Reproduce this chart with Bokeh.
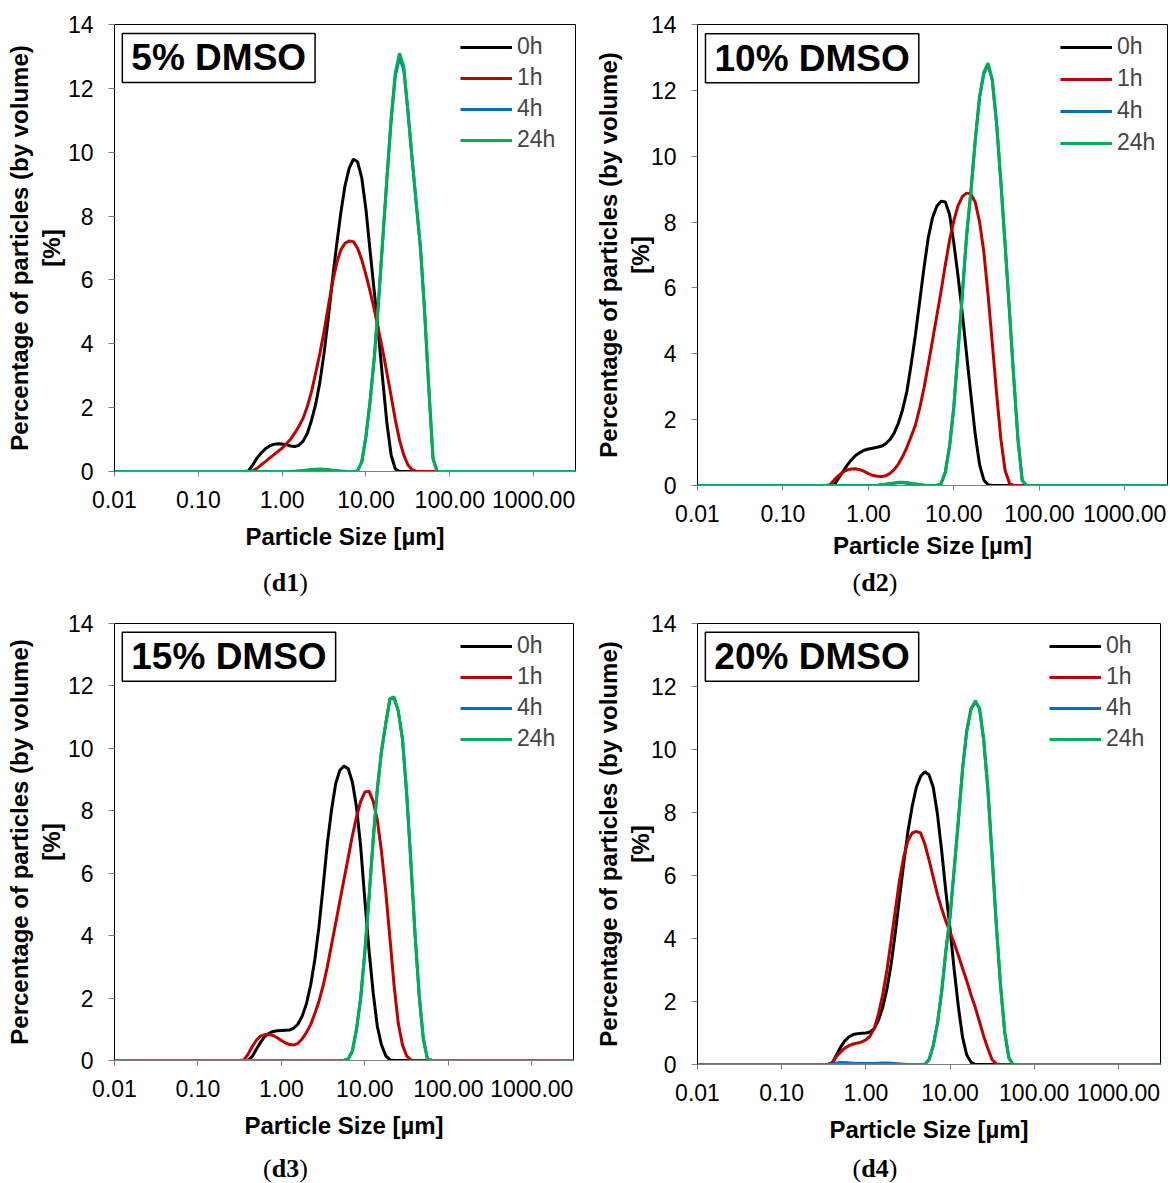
from bokeh.plotting import figure
from bokeh.layouts import column, row
from bokeh.models import (Range1d, FixedTicker, PrintfTickFormatter, Label,
                          Legend, LegendItem, Div)
from bokeh.embed import file_html
from bokeh.resources import INLINE

# particle size classes [µm]
sizes = [0.01,
         0.282, 0.316, 0.355, 0.398, 0.447, 0.501, 0.562, 0.631, 0.708, 0.794,
         0.891, 1.00, 1.12, 1.26, 1.41, 1.58, 1.78, 2.00, 2.24, 2.51,
         2.82, 3.16, 3.55, 3.98, 4.47, 5.01, 5.62, 6.31, 7.08, 7.94,
         8.91, 10.0, 11.2, 12.6, 14.1, 15.8, 17.8, 20.0, 22.4, 25.1,
         28.2, 31.6, 35.5, 39.8, 44.7, 50.1, 56.2, 63.1, 70.8, 79.4,
         89.1, 100.0,
         3500]

series_labels = ["0h", "1h", "4h", "24h"]
series_colors = ["#000000", "#C00000", "#0070C0", "#00B050"]
panel_titles = ["5% DMSO", "10% DMSO", "15% DMSO", "20% DMSO"]
captions = ["d1", "d2", "d3", "d4"]
x_ticks = [0.01, 0.1, 1, 10, 100, 1000]
y_ticks = [0, 2, 4, 6, 8, 10, 12, 14]

# ---- 5% DMSO ----
d1_0h = [0,
         0, 0, 0, 0.02, 0.21, 0.42, 0.58, 0.71, 0.80, 0.85,
         0.87, 0.86, 0.84, 0.80, 0.78, 0.82, 0.95, 1.20, 1.60, 2.10,
         2.80, 3.70, 4.80, 6.00, 7.10, 8.10, 8.95, 9.50, 9.78, 9.70,
         9.20, 8.20, 6.90, 5.60, 4.30, 2.90, 1.50, 0.50, 0.08, 0,
         0, 0, 0, 0, 0, 0, 0, 0, 0, 0,
         0, 0,
         0]
d1_1h = [0,
         0, 0, 0, 0, 0.02, 0.10, 0.21, 0.31, 0.42, 0.52,
         0.63, 0.73, 0.87, 1.01, 1.20, 1.41, 1.67, 2.04, 2.50, 3.08,
         3.70, 4.38, 5.17, 5.90, 6.52, 6.94, 7.15, 7.22, 7.20, 6.99,
         6.63, 6.16, 5.64, 5.06, 4.44, 3.81, 3.08, 2.35, 1.62, 0.99,
         0.52, 0.21, 0.05, 0.01, 0, 0, 0, 0, 0, 0,
         0, 0,
         0]
d1_4h = [0,
         0, 0, 0, 0, 0, 0, 0, 0, 0, 0,
         0, 0, 0, 0, 0, 0, 0.02, 0.03, 0.04, 0.05,
         0.05, 0.04, 0.04, 0.03, 0.02, 0.01, 0, 0, 0, 0.02,
         0.30, 1.10, 2.20, 3.60, 5.30, 7.20, 9.20, 11.0, 12.4, 12.95,
         12.6, 11.3, 9.8, 8.4, 7.0, 5.0, 2.6, 0.4, 0, 0,
         0, 0,
         0]
d1_24h = [0,
          0, 0, 0, 0, 0, 0, 0, 0, 0, 0,
          0, 0, 0, 0, 0.01, 0.02, 0.03, 0.05, 0.06, 0.07,
          0.08, 0.07, 0.06, 0.04, 0.03, 0.01, 0.01, 0, 0, 0.02,
          0.30, 1.10, 2.20, 3.60, 5.30, 7.20, 9.20, 11.1, 12.5, 13.1,
          12.7, 11.3, 9.8, 8.4, 7.0, 5.0, 2.6, 0.4, 0, 0,
          0, 0,
          0]

# ---- 10% DMSO ----
d2_0h = [0,
         0, 0, 0, 0.02, 0.22, 0.41, 0.61, 0.78, 0.91, 1.00,
         1.07, 1.11, 1.13, 1.16, 1.19, 1.26, 1.39, 1.59, 1.89, 2.30,
         2.86, 3.67, 4.58, 5.59, 6.61, 7.52, 8.13, 8.48, 8.63, 8.61,
         8.23, 7.35, 6.35, 5.19, 3.97, 2.76, 1.54, 0.63, 0.17, 0.02,
         0, 0, 0, 0, 0, 0, 0, 0, 0, 0,
         0, 0,
         0]
d2_1h = [0,
         0, 0, 0.02, 0.17, 0.30, 0.41, 0.47, 0.50, 0.51, 0.48,
         0.43, 0.36, 0.31, 0.28, 0.27, 0.29, 0.36, 0.48, 0.65, 0.88,
         1.16, 1.49, 1.84, 2.35, 2.96, 3.67, 4.40, 5.15, 5.90, 6.70,
         7.45, 8.05, 8.50, 8.78, 8.88, 8.85, 8.60, 8.00, 7.10, 5.80,
         4.30, 2.80, 1.40, 0.45, 0.07, 0, 0, 0, 0, 0,
         0, 0,
         0]
d2_4h = [0,
         0, 0, 0, 0, 0, 0, 0, 0, 0, 0,
         0, 0, 0, 0, 0.02, 0.03, 0.05, 0.07, 0.08, 0.08,
         0.07, 0.05, 0.04, 0.02, 0.01, 0, 0, 0, 0.05, 0.40,
         1.20, 2.40, 4.10, 5.85, 7.60, 8.90, 10.5, 11.8, 12.5, 12.78,
         12.3, 11.0, 9.2, 7.3, 5.3, 3.3, 1.4, 0.15, 0, 0,
         0, 0,
         0]
d2_24h = [0,
          0, 0, 0, 0, 0, 0, 0, 0, 0, 0,
          0, 0, 0, 0, 0.02, 0.04, 0.06, 0.08, 0.10, 0.10,
          0.09, 0.07, 0.05, 0.03, 0.01, 0, 0, 0, 0.05, 0.40,
          1.20, 2.40, 4.10, 5.85, 7.60, 8.90, 10.5, 11.8, 12.55, 12.83,
          12.3, 11.0, 9.2, 7.3, 5.3, 3.3, 1.4, 0.15, 0, 0,
          0, 0,
          0]

# ---- 15% DMSO ----
d3_0h = [0,
         0, 0, 0, 0.01, 0.13, 0.36, 0.58, 0.77, 0.87, 0.93,
         0.95, 0.96, 0.97, 0.98, 1.04, 1.17, 1.43, 1.83, 2.42, 3.22,
         4.29, 5.57, 6.95, 8.02, 8.87, 9.30, 9.43, 9.35, 8.92, 8.12,
         6.84, 5.14, 3.54, 2.15, 1.09, 0.50, 0.15, 0.02, 0, 0,
         0, 0, 0, 0, 0, 0, 0, 0, 0, 0,
         0, 0,
         0]
d3_1h = [0,
         0, 0, 0.02, 0.20, 0.45, 0.65, 0.78, 0.83, 0.84, 0.80,
         0.73, 0.64, 0.56, 0.51, 0.50, 0.55, 0.70, 0.90, 1.15, 1.50,
         1.90, 2.40, 3.00, 3.70, 4.40, 5.10, 5.80, 6.50, 7.20, 7.80,
         8.30, 8.60, 8.63, 8.30, 7.70, 6.70, 5.40, 3.90, 2.40, 1.20,
         0.50, 0.15, 0.02, 0, 0, 0, 0, 0, 0, 0,
         0, 0,
         0]
d3_4h = [0,
         0, 0, 0, 0, 0, 0, 0, 0, 0, 0,
         0, 0, 0, 0, 0, 0, 0, 0, 0, 0,
         0, 0, 0, 0, 0, 0, 0, 0.05, 0.30, 1.00,
         2.00, 3.50, 5.20, 7.10, 8.70, 9.90, 10.8, 11.6, 11.6, 11.2,
         10.3, 8.6, 6.4, 4.1, 2.1, 0.7, 0.05, 0, 0, 0,
         0, 0,
         0]
d3_24h = [0,
          0, 0, 0, 0, 0, 0, 0, 0, 0, 0,
          0, 0, 0, 0, 0, 0, 0, 0, 0, 0,
          0, 0, 0, 0, 0, 0, 0, 0.05, 0.30, 1.00,
          2.00, 3.50, 5.20, 7.10, 8.70, 9.90, 10.8, 11.6, 11.65, 11.2,
          10.3, 8.6, 6.4, 4.1, 2.1, 0.7, 0.05, 0, 0, 0,
          0, 0,
          0]

# ---- 20% DMSO ----
d4_0h = [0,
         0, 0, 0, 0.05, 0.30, 0.55, 0.75, 0.88, 0.95, 0.98,
         0.99, 1.00, 1.03, 1.15, 1.40, 1.80, 2.40, 3.20, 4.20, 5.30,
         6.40, 7.40, 8.20, 8.80, 9.15, 9.29, 9.20, 8.80, 7.95, 6.80,
         5.50, 4.30, 3.00, 1.80, 0.85, 0.30, 0.07, 0, 0, 0,
         0, 0, 0, 0, 0, 0, 0, 0, 0, 0,
         0, 0,
         0]
d4_1h = [0,
         0, 0, 0, 0.05, 0.25, 0.40, 0.52, 0.60, 0.65, 0.68,
         0.72, 0.78, 0.90, 1.15, 1.60, 2.20, 3.00, 3.95, 4.90, 5.85,
         6.60, 7.10, 7.35, 7.40, 7.35, 7.00, 6.50, 5.95, 5.40, 4.95,
         4.55, 4.20, 3.85, 3.45, 3.05, 2.65, 2.20, 1.80, 1.35, 0.90,
         0.50, 0.15, 0.02, 0, 0, 0, 0, 0, 0, 0,
         0, 0,
         0]
d4_4h = [0,
         0, 0, 0, 0.02, 0.05, 0.06, 0.06, 0.05, 0.04, 0.03,
         0.03, 0.03, 0.03, 0.03, 0.04, 0.05, 0.05, 0.04, 0.03, 0.02,
         0.01, 0, 0, 0, 0, 0, 0.15, 0.60, 1.30, 2.30,
         3.60, 4.70, 6.20, 7.80, 9.40, 10.6, 11.3, 11.5, 11.3, 10.3,
         8.7, 6.6, 4.4, 2.5, 1.0, 0.2, 0, 0, 0, 0,
         0, 0,
         0]
d4_24h = [0,
          0, 0, 0, 0, 0, 0, 0, 0, 0, 0,
          0, 0, 0, 0, 0, 0, 0, 0, 0, 0,
          0, 0, 0, 0, 0, 0, 0.15, 0.60, 1.30, 2.30,
          3.60, 4.70, 6.20, 7.80, 9.40, 10.6, 11.3, 11.55, 11.3, 10.3,
          8.7, 6.6, 4.4, 2.5, 1.0, 0.2, 0, 0, 0, 0,
          0, 0,
          0]

panel_data = [
    [d1_0h, d1_1h, d1_4h, d1_24h],
    [d2_0h, d2_1h, d2_4h, d2_24h],
    [d3_0h, d3_1h, d3_4h, d3_24h],
    [d4_0h, d4_1h, d4_4h, d4_24h],
]

# layout settings per panel (pixels)
layouts = [
    dict(w=583, h=565, bl=114, br=8, bt=24, bb=94, xls=12, yls=0, lw=49, lsp=4,
         cap_h=35, cap_w=571),
    dict(w=585, h=565, bl=114, br=1, bt=24, bb=80, xls=7, yls=-6, lw=41, lsp=5,
         cap_h=35, cap_w=584),
    dict(w=583, h=556, bl=114, br=10, bt=23, bb=96, xls=12, yls=0, lw=47, lsp=4,
         cap_h=26, cap_w=571),
    dict(w=585, h=556, bl=114, br=8, bt=23, bb=92, xls=12, yls=-6, lw=45, lsp=4,
         cap_h=26, cap_w=584),
]

FONT = "Liberation Sans"


def make_panel(ys, title, lay):
    p = figure(x_axis_type="log", x_range=Range1d(0.01, 3160), y_range=Range1d(0, 14),
               width=lay["w"], height=lay["h"],
               min_border_left=lay["bl"], min_border_right=lay["br"],
               min_border_top=lay["bt"], min_border_bottom=lay["bb"],
               output_backend="svg", toolbar_location=None)
    p.xgrid.visible = False
    p.ygrid.visible = False
    p.outline_line_color = "#000000"
    p.outline_line_width = 1
    p.background_fill_color = "white"
    p.border_fill_color = "white"

    renderers = []
    for yv, col in zip(ys, series_colors):
        r = p.line(sizes, yv, line_color=col, line_width=3)
        renderers.append(r)

    # x axis
    xa = p.xaxis[0]
    xa.ticker = FixedTicker(ticks=x_ticks)
    xa.formatter = PrintfTickFormatter(format="%.2f")
    xa.major_tick_out = 5
    xa.major_tick_in = 0
    xa.minor_tick_out = 0
    xa.minor_tick_in = 0
    xa.axis_line_color = "#7f7f7f"
    xa.major_tick_line_color = "#7f7f7f"
    xa.major_label_text_font = FONT
    xa.major_label_text_font_size = "23px"
    xa.major_label_text_color = "#000000"
    xa.major_label_standoff = 14
    xa.axis_label = "Particle Size [µm]"
    xa.axis_label_text_font = FONT
    xa.axis_label_text_font_size = "24px"
    xa.axis_label_text_font_style = "bold"
    xa.axis_label_text_color = "#000000"
    xa.axis_label_standoff = lay["xls"]

    # y axis
    ya = p.yaxis[0]
    ya.ticker = FixedTicker(ticks=y_ticks)
    ya.major_tick_out = 6
    ya.major_tick_in = 0
    ya.minor_tick_out = 0
    ya.minor_tick_in = 0
    ya.axis_line_color = "#000000"
    ya.major_tick_line_color = "#7f7f7f"
    ya.major_label_text_font = FONT
    ya.major_label_text_font_size = "23px"
    ya.major_label_text_color = "#000000"
    ya.major_label_standoff = 15
    ya.axis_label = "Percentage of particles (by volume)\n[%]"
    ya.axis_label_text_font = FONT
    ya.axis_label_text_font_size = "24px"
    ya.axis_label_text_font_style = "bold"
    ya.axis_label_text_color = "#000000"
    ya.axis_label_text_line_height = 1.2
    ya.axis_label_standoff = lay["yls"]

    # legend
    items = [LegendItem(label=lab, renderers=[r]) for lab, r in zip(series_labels, renderers)]
    legend = Legend(items=items, location="top_right",
                    label_text_font=FONT, label_text_font_size="23px",
                    glyph_width=52, glyph_height=24, spacing=lay["lsp"], label_standoff=5,
                    label_width=lay["lw"], padding=0, margin=9,
                    border_line_alpha=0, background_fill_alpha=0)
    p.add_layout(legend)

    # boxed title
    lbl = Label(x=0.0124, y=13.72, text=title, text_font=FONT, text_font_size="37px",
                text_font_style="bold", text_color="#000000",
                text_align="left", text_baseline="top",
                border_line_color="#000000", border_line_width=1.5,
                background_fill_color="white", padding=(9, 4))
    p.add_layout(lbl)
    return p


def make_caption(tag, lay):
    html = ('<div style="width:%dpx;height:%dpx;line-height:%dpx;text-align:center;'
            'font-family:\'Liberation Serif\',serif;font-size:26px;color:#000;">'
            '(<b>%s</b>)</div>') % (lay["cap_w"], lay["cap_h"], lay["cap_h"], tag)
    return Div(text=html, width=lay["w"], height=lay["cap_h"], margin=(0, 0, 0, 0))


cells = []
for i in range(4):
    p = make_panel(panel_data[i], panel_titles[i], layouts[i])
    cap = make_caption(captions[i], layouts[i])
    cells.append(column(p, cap, spacing=0))

page = column(row(cells[0], cells[1], spacing=0), row(cells[2], cells[3], spacing=0), spacing=0)

open("out.html", "w").write(file_html(page, INLINE))
